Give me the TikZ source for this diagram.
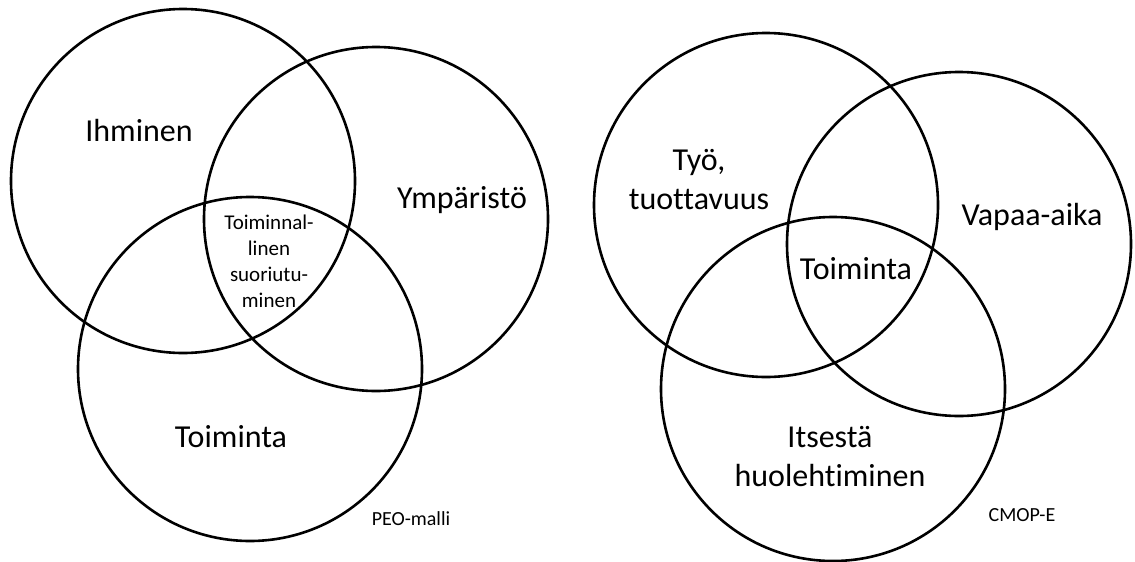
\documentclass[tikz,border=0pt]{standalone}
\usepackage{fontspec}
\setmainfont{Carlito}[Ligatures=NoCommon]

\begin{document}
\begin{tikzpicture}[
    x=1pt, y=-1pt,
    every node/.style={inner sep=0pt},
    setcircle/.style={circle, draw=black, line width=2.6pt, minimum size=344pt},
    biglabel/.style={font=\fontsize{32}{39}\selectfont, align=center},
    midlabel/.style={font=\fontsize{21}{26}\selectfont, align=center},
    modellabel/.style={font=\fontsize{20}{24}\selectfont},
]
\useasboundingbox (0,0) rectangle (1135,562);

% PEO model
\node[setcircle] (person) at (183,181) {};
\node[setcircle] (environment) at (376,219) {};
\node[setcircle] (occupation) at (250,369) {};

\node[biglabel, anchor=base] (ihminen) at (139,141.5) {Ihminen};
\node[biglabel, anchor=base] (ymparisto) at (462,208.7) {Ympäristö};
\node[biglabel, anchor=base] (toiminta) at (231,447.6) {Toiminta};
\node[midlabel] (suoriutuminen) at (269,261) {Toiminnal-\\linen\\suoriutu-\\minen};
\node[modellabel, anchor=base] (peo) at (411,525) {PEO-malli};

% CMOP-E model
\node[setcircle] (productivity) at (766,205) {};
\node[setcircle] (leisure) at (959,244) {};
\node[setcircle] (selfcare) at (833,389) {};

\node[biglabel] (tyo) at (699,180) {Työ,\\tuottavuus};
\node[biglabel, anchor=base] (vapaa) at (1032,225.6) {Vapaa-aika};
\node[biglabel, anchor=base] (toimintaR) at (856,279.8) {Toiminta};
\node[biglabel] (itsesta) at (830,457) {Itsestä\\huolehtiminen};
\node[modellabel, anchor=base] (cmope) at (1022,521) {CMOP-E};

\end{tikzpicture}
\end{document}
